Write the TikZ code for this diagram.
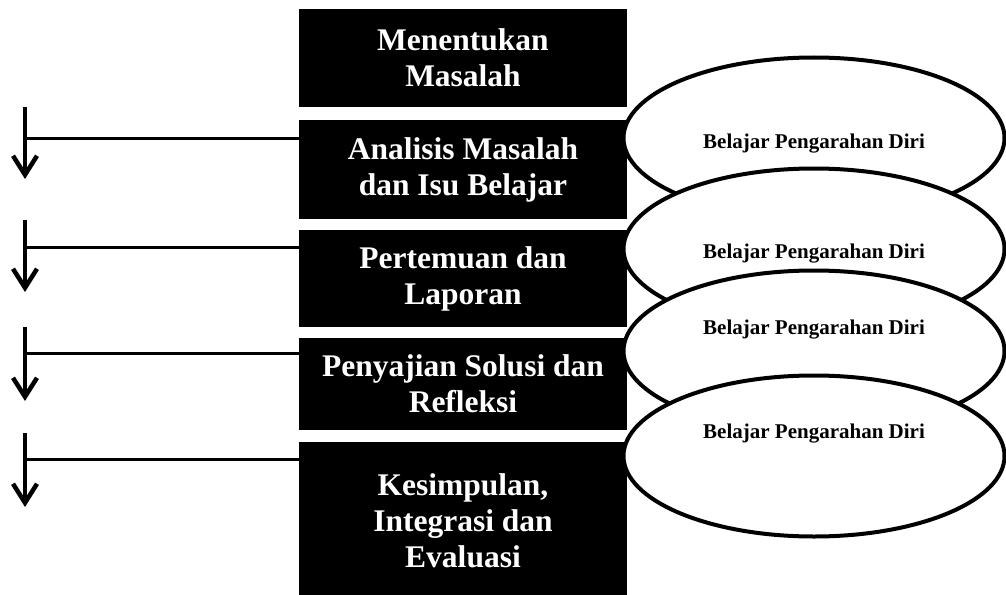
\documentclass[tikz,border=0pt]{standalone}
\usepackage{fontspec}
\setmainfont{Liberation Serif}
\usetikzlibrary{shapes.geometric,arrows.meta}

\begin{document}
\begin{tikzpicture}[x=1pt,y=-1pt,
  stage/.style={fill=black,text=white,inner sep=0pt,minimum width=328pt,align=center,font=\fontsize{31.5}{36}\selectfont\bfseries},
  selfdir/.style={draw,ellipse,fill=white,line width=4pt,minimum width=381pt,minimum height=161pt,inner sep=0pt},
  selftext/.style={anchor=base,font=\fontsize{21}{25}\selectfont\bfseries},
  link/.style={line width=3pt},
  down/.style={line width=4.5pt,-{Straight Barb[length=19pt,width=24pt,line width=4.5pt]}}]
\useasboundingbox (0,0) rectangle (1006,594);

\node[stage,minimum height=98pt] (b1) at (463,58) {Menentukan\\Masalah};
\node[stage,minimum height=99pt] (b2) at (463,169.5) {Analisis Masalah\\dan Isu Belajar};
\node[stage,minimum height=97pt] (b3) at (463,278.5) {Pertemuan dan\\Laporan};
\node[stage,minimum height=92pt] (b4) at (463,384) {Penyajian Solusi dan\\Refleksi};
\node[stage,minimum height=158pt] (b5) at (463,521) {Kesimpulan,\\Integrasi dan\\Evaluasi};

\coordinate (s2) at (25,107);
\coordinate (e2) at (25,179);
\coordinate (s3) at (25,220);
\coordinate (e3) at (25,292);
\coordinate (s4) at (25,327);
\coordinate (e4) at (25,401);
\coordinate (s5) at (25,433);
\coordinate (e5) at (25,507);

\coordinate (h2) at ([yshift=-19pt]b2.north west);
\coordinate (h3) at ([yshift=-18pt]b3.north west);
\coordinate (h4) at ([yshift=-16pt]b4.north west);
\coordinate (h5) at ([yshift=-18pt]b5.north west);

\path[draw,link] (h2) -- (s2 |- h2);
\path[draw,link] (h3) -- (s3 |- h3);
\path[draw,link] (h4) -- (s4 |- h4);
\path[draw,link] (h5) -- (s5 |- h5);

\path[draw,down] (s2) -- (e2);
\path[draw,down] (s3) -- (e3);
\path[draw,down] (s4) -- (e4);
\path[draw,down] (s5) -- (e5);

\node[selfdir] (d1) at (814,138) {};
\node[selftext] at (814,148) {Belajar Pengarahan Diri};
\node[selfdir] (d2) at (814,249) {};
\node[selftext] at (814,258) {Belajar Pengarahan Diri};
\node[selfdir] (d3) at (814,351) {};
\node[selftext] at (814,334) {Belajar Pengarahan Diri};
\node[selfdir] (d4) at (814,456) {};
\node[selftext] at (814,438) {Belajar Pengarahan Diri};
\end{tikzpicture}
\end{document}
